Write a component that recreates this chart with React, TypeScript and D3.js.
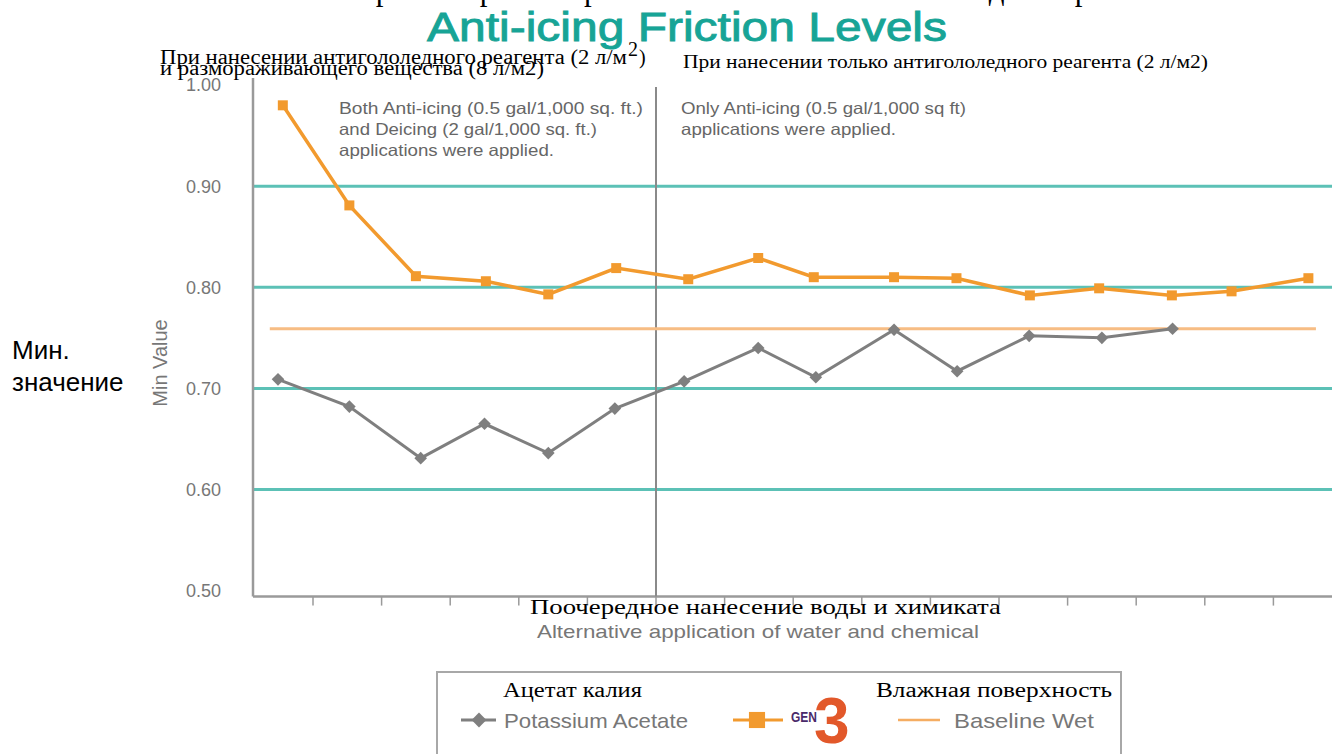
import React from "react";
import * as d3 from "d3";

// ---------- data ----------
// x positions are in "tick units" (tick k sits at k on the x scale)
const gen3X = [0.56, 1.53, 2.5, 3.52, 4.43, 5.42, 6.47, 7.49, 8.3, 9.47, 10.38, 11.45, 12.46, 13.52, 14.39, 15.51];
const gen3Y = [0.98, 0.881, 0.811, 0.806, 0.793, 0.819, 0.808, 0.829, 0.81, 0.81, 0.809, 0.792, 0.799, 0.792, 0.796, 0.809];
const potassiumX = [0.49, 1.53, 2.57, 3.5, 4.43, 5.4, 6.41, 7.49, 8.33, 9.47, 10.39, 11.44, 12.5, 13.53];
const potassiumY = [0.709, 0.682, 0.631, 0.665, 0.636, 0.68, 0.707, 0.74, 0.711, 0.758, 0.717, 0.752, 0.75, 0.759];
const baselineWet = 0.759;
const baselineExtent = [0.37, 15.62];
const dividerAt = 6;
const xTicks = [1, 2, 3, 4, 5, 6, 7, 8, 9, 10, 11, 12, 13, 14, 15, 16];
const yTicks = [0.5, 0.6, 0.7, 0.8, 0.9, 1.0];
const gridValues = [0.6, 0.7, 0.8, 0.9];
const yTickLabels = ["0.50", "0.60", "0.70", "0.80", "0.90", "1.00"];

const SANS = "'Liberation Sans', Arial, sans-serif";
const SERIF = "'Liberation Serif', 'Times New Roman', serif";

const ORANGE = "#f29a2e";
const GRAY = "#7f7f7f";
const TEAL = "#5cc1b6";
const TEXT_GRAY = "#777777";

export default function App() {
  const x = d3.scaleLinear().domain([0, 16]).range([244.4, 244.4 + 68.6 * 16]);
  const y = d3.scaleLinear().domain([0.5, 1.0]).range([590.6, 85.1]);
  const plotLeft = 253;
  const plotRight = 1332;
  const axisY = y(0.5) + 6;

  const line = d3
    .line<[number, number]>()
    .x((d) => x(d[0]))
    .y((d) => y(d[1]));

  const gen3Pts: [number, number][] = gen3X.map((v, i) => [v, gen3Y[i]]);
  const potPts: [number, number][] = potassiumX.map((v, i) => [v, potassiumY[i]]);

  const squarePath = d3.symbol(d3.symbolSquare, 100)() as string;
  const diamondPath = d3.symbol(d3.symbolSquare, 80)() as string;

  return (
    <svg
      width={1332}
      height={754}
      style={{ position: "absolute", left: 0, top: 0, background: "#fff" }}
    >
      {/* cut-off Russian title at the very top */}
      <text x={356} y={0} fontFamily={SERIF} fontSize={31} fill="#000" textLength={836} lengthAdjust="spacing">
        Уровни трения при использовании антигололедного реагента
      </text>
      {/* English title */}
      <text
        x={427}
        y={41}
        fontFamily={SANS}
        fontSize={40}
        fill="#17a496"
        stroke="#17a496"
        strokeWidth={0.9}
        textLength={520}
        lengthAdjust="spacingAndGlyphs"
      >
        Anti-icing Friction Levels
      </text>

      {/* Russian annotations */}
      <text x={160} y={64} fontFamily={SERIF} fontSize={20} fill="#000" textLength={467} lengthAdjust="spacingAndGlyphs">
        При нанесении антигололедного реагента (2 л/м
      </text>
      <text x={628} y={56} fontFamily={SERIF} fontSize={20} fill="#000">2</text>
      <text x={639} y={64} fontFamily={SERIF} fontSize={20} fill="#000">)</text>
      <text x={160} y={75} fontFamily={SERIF} fontSize={20} fill="#000" textLength={384} lengthAdjust="spacingAndGlyphs">
        и размораживающего вещества (8 л/м2)
      </text>
      <text x={683} y={68} fontFamily={SERIF} fontSize={19} fill="#000" textLength={525} lengthAdjust="spacingAndGlyphs">
        При нанесении только антигололедного реагента (2 л/м2)
      </text>

      {/* gridlines */}
      {gridValues.map((v) => (
        <line key={v} x1={plotLeft} x2={plotRight} y1={y(v)} y2={y(v)} stroke={TEAL} strokeWidth={3} />
      ))}

      {/* axes */}
      <line x1={plotLeft} x2={plotLeft} y1={78} y2={axisY} stroke="#9a9a9a" strokeWidth={2.5} />
      <line x1={plotLeft} x2={plotRight} y1={axisY} y2={axisY} stroke="#9a9a9a" strokeWidth={2.5} />
      {xTicks.map((t) => (
        <line key={t} x1={x(t)} x2={x(t)} y1={axisY} y2={axisY + 9} stroke="#9a9a9a" strokeWidth={1.5} />
      ))}
      <line x1={x(dividerAt)} x2={x(dividerAt)} y1={87} y2={axisY} stroke="#8a8a8a" strokeWidth={2} />

      {/* y tick labels */}
      {yTicks.map((v, i) => (
        <text key={v} x={221} y={y(v)} dy="0.35em" textAnchor="end" fontFamily={SANS} fontSize={18} fill={TEXT_GRAY}>
          {yTickLabels[i]}
        </text>
      ))}

      {/* y-axis titles */}
      <text transform={`translate(167,363) rotate(-90)`} textAnchor="middle" fontFamily={SANS} fontSize={20} fill={TEXT_GRAY}>
        Min Value
      </text>
      <text x={12} y={359} fontFamily={SANS} fontSize={26} fill="#000">Мин.</text>
      <text x={12} y={391} fontFamily={SANS} fontSize={26} fill="#000">значение</text>

      {/* in-plot annotations */}
      <g fontFamily={SANS} fontSize={16.5} fill="#666">
        <text x={339} y={114} textLength={304} lengthAdjust="spacingAndGlyphs">Both Anti-icing (0.5 gal/1,000 sq. ft.)</text>
        <text x={339} y={135} textLength={258} lengthAdjust="spacingAndGlyphs">and Deicing (2 gal/1,000 sq. ft.)</text>
        <text x={339} y={156} textLength={215} lengthAdjust="spacingAndGlyphs">applications were applied.</text>
        <text x={681} y={114} textLength={285} lengthAdjust="spacingAndGlyphs">Only Anti-icing (0.5 gal/1,000 sq ft)</text>
        <text x={681} y={135} textLength={215} lengthAdjust="spacingAndGlyphs">applications were applied.</text>
      </g>

      {/* baseline wet */}
      <line
        x1={x(baselineExtent[0])}
        x2={x(baselineExtent[1])}
        y1={y(baselineWet)}
        y2={y(baselineWet)}
        stroke="#f7bd84"
        strokeWidth={3}
      />

      {/* potassium acetate */}
      <path d={line(potPts) as string} fill="none" stroke={GRAY} strokeWidth={3} />
      {potPts.map((p, i) => (
        <path key={i} d={diamondPath} transform={`translate(${x(p[0])},${y(p[1])}) rotate(45)`} fill={GRAY} />
      ))}

      {/* GEN3 */}
      <path d={line(gen3Pts) as string} fill="none" stroke={ORANGE} strokeWidth={3.5} />
      {gen3Pts.map((p, i) => (
        <path key={i} d={squarePath} transform={`translate(${x(p[0])},${y(p[1])})`} fill={ORANGE} />
      ))}

      {/* x-axis titles */}
      <text x={530} y={614} fontFamily={SERIF} fontSize={21} fill="#000" textLength={471} lengthAdjust="spacingAndGlyphs">
        Поочередное нанесение воды и химиката
      </text>
      <text x={537} y={638} fontFamily={SANS} fontSize={19} fill={TEXT_GRAY} textLength={442} lengthAdjust="spacingAndGlyphs">
        Alternative application of water and chemical
      </text>

      {/* legend */}
      <rect x={437} y={672} width={684} height={100} fill="#fff" stroke="#a8a8a8" strokeWidth={2} />
      <text x={503} y={697} fontFamily={SERIF} fontSize={20} fill="#000" textLength={139} lengthAdjust="spacingAndGlyphs">Ацетат калия</text>
      <text x={876} y={697} fontFamily={SERIF} fontSize={20} fill="#000" textLength={236} lengthAdjust="spacingAndGlyphs">Влажная поверхность</text>

      <line x1={461} x2={496} y1={720} y2={720} stroke={GRAY} strokeWidth={3} />
      <path d={d3.symbol(d3.symbolSquare, 110)() as string} transform={`translate(479,720) rotate(45)`} fill={GRAY} />
      <text x={504} y={728} fontFamily={SANS} fontSize={21} fill={TEXT_GRAY} textLength={184} lengthAdjust="spacingAndGlyphs">Potassium Acetate</text>

      <line x1={733} x2={783} y1={720} y2={720} stroke={ORANGE} strokeWidth={3} />
      <path d={d3.symbol(d3.symbolSquare, 260)() as string} transform="translate(757,720)" fill={ORANGE} />
      <text x={791} y={722} fontFamily={SANS} fontSize={14} fontWeight="bold" fill="#4a2a6a" textLength={26} lengthAdjust="spacingAndGlyphs">GEN</text>
      <text x={814} y={743} fontFamily={SANS} fontSize={64} fontWeight="bold" fill="#e2582a">3</text>

      <line x1={898} x2={940} y1={720} y2={720} stroke="#f5ad62" strokeWidth={2.5} />
      <text x={954} y={728} fontFamily={SANS} fontSize={21} fill={TEXT_GRAY} textLength={140} lengthAdjust="spacingAndGlyphs">Baseline Wet</text>
    </svg>
  );
}
